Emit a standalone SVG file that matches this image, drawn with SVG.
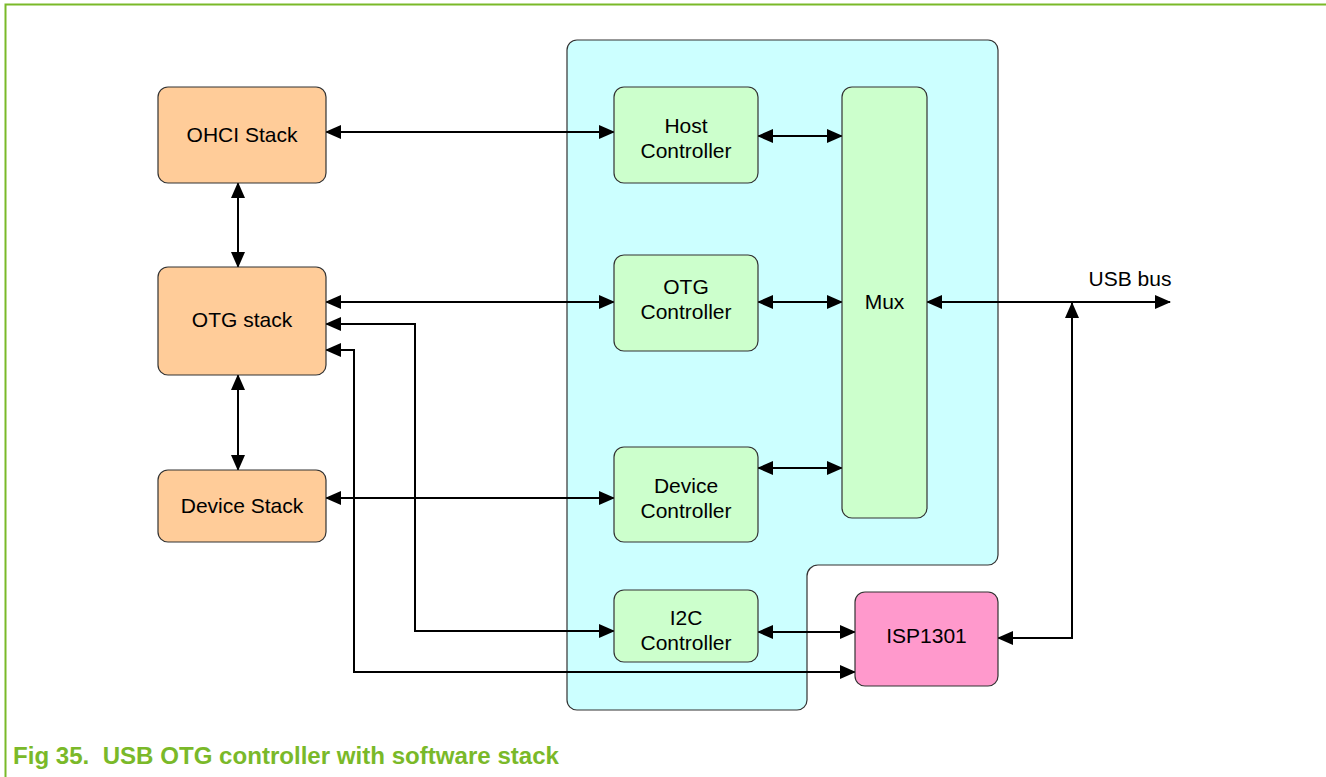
<svg xmlns="http://www.w3.org/2000/svg" width="1326" height="777" viewBox="0 0 1326 777">
<style>
.node{stroke:#333;stroke-width:1.2}
.orange{fill:#FFCC99}
.green{fill:#CCFFCC}
.pink{fill:#FF99CC}
.lbl{font-family:"Liberation Sans",Arial,sans-serif;font-size:21px;fill:#000;text-anchor:middle}
.con{fill:none;stroke:#000;stroke-width:2;marker-start:url(#ah);marker-end:url(#ah)}
.cap{font-family:"Liberation Sans",Arial,sans-serif;font-size:23px;font-weight:bold;fill:#7AB929}
</style>
<defs>
<marker id="ah" viewBox="0 0 16 14" refX="15" refY="7" markerWidth="16" markerHeight="14" markerUnits="userSpaceOnUse" orient="auto-start-reverse">
<path d="M0,0 L16,7 L0,14 Z" fill="#000"/>
</marker>
</defs>
<rect width="1326" height="777" fill="#fff"/>
<path d="M1326,4.5 H5.5 V777" fill="none" stroke="#7AB929" stroke-width="2"/>
<g id="soc">
<path d="M577,40 H988 A10,10 0 0 1 998,50 V555 A10,10 0 0 1 988,565 H818 A11,11 0 0 0 807,576 V700 A10,10 0 0 1 797,710 H577 A10,10 0 0 1 567,700 V50 A10,10 0 0 1 577,40 Z" fill="#CCFFFF" stroke="#333" stroke-width="1.2"/>
</g>
<g id="connectors">
<path class="con" d="M326,132 H614"/>
<path class="con" d="M758,136 H842"/>
<path class="con" d="M238,183 V267"/>
<path class="con" d="M326,302 H614"/>
<path class="con" d="M758,302 H842"/>
<path class="con" d="M238,375 V470"/>
<path class="con" d="M326,498 H614"/>
<path class="con" d="M758,468 H842"/>
<path class="con" d="M927,302 H1170"/>
<path class="con" d="M998,638 H1072 V303"/>
<path class="con" d="M758,632 H855"/>
<path class="con" d="M326,324 H415 V631 H614"/>
<path class="con" d="M326,350 H354 V672 H855"/>
</g>
<g id="ohci">
<rect class="node orange" x="158" y="87" width="168" height="96" rx="10"/>
<text class="lbl" x="242" y="142">OHCI Stack</text>
</g>
<g id="otgstack">
<rect class="node orange" x="158" y="267" width="168" height="108" rx="10"/>
<text class="lbl" x="242" y="327">OTG stack</text>
</g>
<g id="devstack">
<rect class="node orange" x="158" y="470" width="168" height="72" rx="10"/>
<text class="lbl" x="242" y="513">Device Stack</text>
</g>
<g id="host">
<rect class="node green" x="614" y="87" width="144" height="96" rx="10"/>
<text class="lbl" x="686" y="133">Host</text>
<text class="lbl" x="686" y="158">Controller</text>
</g>
<g id="otgctrl">
<rect class="node green" x="614" y="255" width="144" height="96" rx="10"/>
<text class="lbl" x="686" y="294">OTG</text>
<text class="lbl" x="686" y="319">Controller</text>
</g>
<g id="devctrl">
<rect class="node green" x="614" y="447" width="144" height="95" rx="10"/>
<text class="lbl" x="686" y="493">Device</text>
<text class="lbl" x="686" y="518">Controller</text>
</g>
<g id="i2c">
<rect class="node green" x="614" y="590" width="144" height="72" rx="10"/>
<text class="lbl" x="686" y="625">I2C</text>
<text class="lbl" x="686" y="650">Controller</text>
</g>
<g id="mux">
<rect class="node green" x="842" y="87" width="85" height="431" rx="10"/>
<text class="lbl" x="884.5" y="309">Mux</text>
</g>
<g id="isp">
<rect class="node pink" x="855" y="592" width="143" height="94" rx="10"/>
<text class="lbl" x="926.5" y="643">ISP1301</text>
</g>
<text class="lbl" x="1130" y="286">USB bus</text>
<text class="cap" x="13" y="764" xml:space="preserve" textLength="546" lengthAdjust="spacingAndGlyphs">Fig 35.  USB OTG controller with software stack</text>
</svg>
